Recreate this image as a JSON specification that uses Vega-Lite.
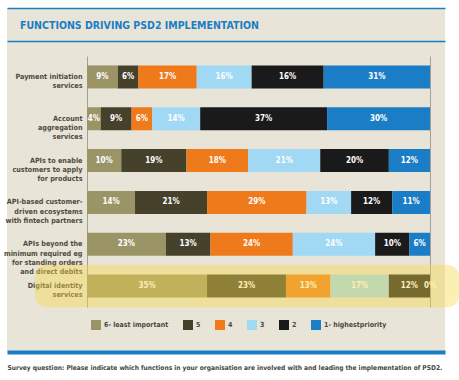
{
  "$schema": "https://vega.github.io/schema/vega-lite/v6.json",
  "width": 438,
  "height": 344,
  "autosize": {"type": "none"},
  "padding": {"left": 7, "top": 8, "right": 14, "bottom": 28},
  "background": "#ffffff",
  "config": {
    "view": {"fill": "#e8e5d8", "stroke": null},
    "font": "DejaVu Sans Condensed"
  },
  "title": {
    "text": "FUNCTIONS DRIVING PSD2 IMPLEMENTATION",
    "anchor": "start",
    "frame": "group",
    "font": "DejaVu Sans Condensed",
    "fontWeight": "bold",
    "fontSize": 10.5,
    "color": "#1b7dc5",
    "baseline": "alphabetic",
    "offset": 0,
    "dx": 13,
    "dy": 31
  },
  "data": {
    "values": [
      {"function": "Payment initiation|services", "level": "6- least important", "k": 1, "value": 9, "label": "9%"},
      {"function": "Payment initiation|services", "level": "5", "k": 2, "value": 6, "label": "6%"},
      {"function": "Payment initiation|services", "level": "4", "k": 3, "value": 17, "label": "17%"},
      {"function": "Payment initiation|services", "level": "3", "k": 4, "value": 16, "label": "16%"},
      {"function": "Payment initiation|services", "level": "2", "k": 5, "value": 21, "label": "16%"},
      {"function": "Payment initiation|services", "level": "1- highestpriority", "k": 6, "value": 31, "label": "31%"},
      {"function": "Account|aggregation|services", "level": "6- least important", "k": 1, "value": 4, "label": "4%"},
      {"function": "Account|aggregation|services", "level": "5", "k": 2, "value": 9, "label": "9%"},
      {"function": "Account|aggregation|services", "level": "4", "k": 3, "value": 6, "label": "6%"},
      {"function": "Account|aggregation|services", "level": "3", "k": 4, "value": 14, "label": "14%"},
      {"function": "Account|aggregation|services", "level": "2", "k": 5, "value": 37, "label": "37%"},
      {"function": "Account|aggregation|services", "level": "1- highestpriority", "k": 6, "value": 30, "label": "30%"},
      {"function": "APIs to enable|customers to apply|for products", "level": "6- least important", "k": 1, "value": 10, "label": "10%"},
      {"function": "APIs to enable|customers to apply|for products", "level": "5", "k": 2, "value": 19, "label": "19%"},
      {"function": "APIs to enable|customers to apply|for products", "level": "4", "k": 3, "value": 18, "label": "18%"},
      {"function": "APIs to enable|customers to apply|for products", "level": "3", "k": 4, "value": 21, "label": "21%"},
      {"function": "APIs to enable|customers to apply|for products", "level": "2", "k": 5, "value": 20, "label": "20%"},
      {"function": "APIs to enable|customers to apply|for products", "level": "1- highestpriority", "k": 6, "value": 12, "label": "12%"},
      {"function": "API-based customer-|driven ecosystems|with fintech partners", "level": "6- least important", "k": 1, "value": 14, "label": "14%"},
      {"function": "API-based customer-|driven ecosystems|with fintech partners", "level": "5", "k": 2, "value": 21, "label": "21%"},
      {"function": "API-based customer-|driven ecosystems|with fintech partners", "level": "4", "k": 3, "value": 29, "label": "29%"},
      {"function": "API-based customer-|driven ecosystems|with fintech partners", "level": "3", "k": 4, "value": 13, "label": "13%"},
      {"function": "API-based customer-|driven ecosystems|with fintech partners", "level": "2", "k": 5, "value": 12, "label": "12%"},
      {"function": "API-based customer-|driven ecosystems|with fintech partners", "level": "1- highestpriority", "k": 6, "value": 11, "label": "11%"},
      {"function": "APIs beyond the|minimum required eg|for standing orders|and direct debits", "level": "6- least important", "k": 1, "value": 23, "label": "23%"},
      {"function": "APIs beyond the|minimum required eg|for standing orders|and direct debits", "level": "5", "k": 2, "value": 13, "label": "13%"},
      {"function": "APIs beyond the|minimum required eg|for standing orders|and direct debits", "level": "4", "k": 3, "value": 24, "label": "24%"},
      {"function": "APIs beyond the|minimum required eg|for standing orders|and direct debits", "level": "3", "k": 4, "value": 24, "label": "24%"},
      {"function": "APIs beyond the|minimum required eg|for standing orders|and direct debits", "level": "2", "k": 5, "value": 10, "label": "10%"},
      {"function": "APIs beyond the|minimum required eg|for standing orders|and direct debits", "level": "1- highestpriority", "k": 6, "value": 6, "label": "6%"},
      {"function": "Digital identity|services", "level": "6- least important", "k": 1, "value": 35, "label": "35%"},
      {"function": "Digital identity|services", "level": "5", "k": 2, "value": 23, "label": "23%"},
      {"function": "Digital identity|services", "level": "4", "k": 3, "value": 13, "label": "13%"},
      {"function": "Digital identity|services", "level": "3", "k": 4, "value": 17, "label": "17%"},
      {"function": "Digital identity|services", "level": "2", "k": 5, "value": 12, "label": "12%"},
      {"function": "Digital identity|services", "level": "1- highestpriority", "k": 6, "value": 0, "label": "0%"}
    ]
  },
  "layer": [
    {
      "mark": {"type": "bar"},
      "encoding": {
        "y": {
          "field": "function", "type": "nominal", "sort": null,
          "scale": {"range": [48, 299], "paddingInner": 0.45, "paddingOuter": 0.225},
          "axis": {
            "orient": "left", "offset": -80, "title": null, "ticks": false,
            "domainColor": "#a3a096", "domainWidth": 1,
            "labelAlign": "right", "labelPadding": 5, "labelBaseline": "middle",
            "labelExpr": "split(datum.label, '|')",
            "labelFont": "DejaVu Sans Condensed",
            "labelFontWeight": "bold", "labelFontSize": 7.2, "labelColor": "#4f4c40",
            "labelLineHeight": 9.3
          }
        },
        "x": {
          "field": "value", "type": "quantitative", "stack": "zero",
          "scale": {"domain": [-23.32, 104.37], "nice": false, "zero": false},
          "axis": {
            "orient": "bottom", "grid": false, "ticks": false, "labels": false,
            "domainColor": "#1b7dc5", "domainWidth": 4,
            "title": "Survey question: Please indicate which functions in your organisation are involved with and leading the implementation of PSD2.",
            "titleAnchor": "start", "titleAlign": "left", "titleBaseline": "middle",
            "titleX": 0, "titleY": 15,
            "titleFont": "DejaVu Sans Condensed",
            "titleFontWeight": "bold", "titleFontSize": 6.6, "titleColor": "#454540"
          }
        },
        "color": {
          "field": "level", "type": "nominal",
          "scale": {
            "domain": ["6- least important", "5", "4", "3", "2", "1- highestpriority"],
            "range": ["#9a9467", "#45412b", "#ef7a1c", "#a1d8f4", "#1b1a1a", "#1b7dc5"]
          },
          "legend": {
            "orient": "none", "legendX": 84, "legendY": 312, "direction": "horizontal",
            "columns": 6, "title": null, "padding": 0,
            "symbolType": "square", "symbolSize": 100, "symbolStrokeWidth": 0,
            "labelFont": "DejaVu Sans Condensed",
            "labelFontWeight": "bold", "labelFontSize": 7, "labelColor": "#4a473c",
            "columnPadding": 14, "labelOffset": 3
          }
        },
        "order": {"field": "k", "type": "quantitative"}
      }
    },
    {
      "mark": {
        "type": "text", "font": "DejaVu Sans Condensed",
        "fontWeight": "bold", "fontSize": 8, "color": "#ffffff", "baseline": "middle"
      },
      "encoding": {
        "y": {
          "field": "function", "type": "nominal", "sort": null,
          "axis": {"orient": "right", "offset": -15, "labels": false, "ticks": false, "title": null, "domainColor": "#a3a096"}
        },
        "x": {
          "field": "value", "type": "quantitative", "stack": "zero", "bandPosition": 0.5,
          "axis": {"orient": "top", "offset": -33, "grid": false, "ticks": false, "labels": false, "title": null, "domainColor": "#1b7dc5", "domainWidth": 1.3}
        },
        "detail": {"field": "level"},
        "order": {"field": "k", "type": "quantitative"},
        "text": {"field": "label"}
      }
    },
    {
      "mark": {"type": "rule", "opacity": 0},
      "encoding": {
        "x": {
          "field": "value", "type": "quantitative", "stack": null,
          "axis": {"orient": "top", "offset": 0, "grid": false, "ticks": false, "labels": false, "title": null, "domainColor": "#1b7dc5", "domainWidth": 1.3}
        },
        "y": {"field": "function", "type": "nominal", "sort": null, "axis": null}
      }
    },
    {
      "data": {"values": [{"function": "Digital identity|services"}]},
      "mark": {"type": "bar", "color": "#f5d84a", "opacity": 0.42, "height": {"band": 1.85}, "cornerRadius": 12},
      "encoding": {
        "y": {"field": "function", "type": "nominal", "sort": null, "axis": null},
        "x": {"datum": -15.2, "type": "quantitative", "axis": null},
        "x2": {"datum": 108.5}
      }
    }
  ],
  "resolve": {"axis": {"x": "independent", "y": "independent"}}
}
